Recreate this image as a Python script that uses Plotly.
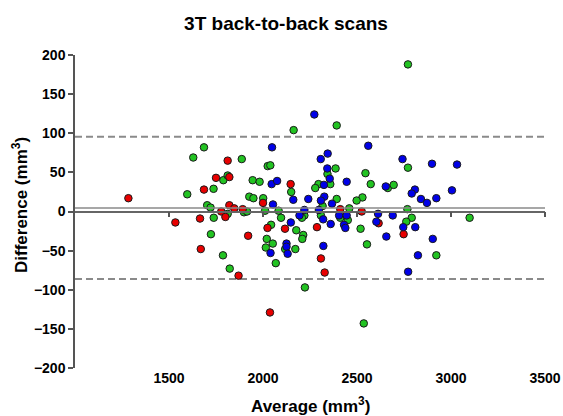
import plotly.graph_objects as go

# ---- data ----
green_x = [2771, 2392, 2163, 1686, 1629, 1887, 2025, 2039, 2386, 2771, 2343, 2358, 2295, 2278, 2545,
           2573, 2664, 2695, 2529, 2498, 2392, 2317, 2459, 2411, 2451, 2768, 2791, 2762, 2220, 2308,
           2519, 3099, 2214, 2209, 2553, 2922, 1789, 1812, 1945, 1982, 2150, 1597, 1737, 1927, 1949,
           2001, 1703, 1721, 1812, 1738, 1899, 1915, 2011, 2083, 2096, 2043, 2177, 1723, 2020, 2052,
           2118, 2172, 2015, 1787, 2068, 1823, 2223, 2536, 2207]
green_y = [188, 110, 104, 82, 69, 67, 58, 59, 55, 56, 48, 35, 35, 30, 49,
           35, 30, 34, 18, 14, 16, 7, 4, -8, -11, 3, -8, -13, -5, -5,
           -22, -8, -30, -35, -42, -56, 40, 46, 40, 38, 25, 22, 29, 19, 17,
           17, 8, 5, -3, -8, -1, 0, 1, 1, -8, -17, -24, -29, -35, -41,
           -48, -48, -46, -56, -66, -73, -97, -143, -8]

red_x = [1284, 1534, 1665, 1669, 1686, 1750, 1812, 1821, 1821, 1847, 1778, 1800, 1892, 1921,
         1870, 2000, 2024, 2037, 2117, 2147, 2287, 2308, 2328, 2411, 2525, 2615, 2748]
red_y = [17, -14, -9, -48, 28, 43, 65, 44, 8, 4, 0, -7, 3, -31,
         -82, 11, -21, -129, -22, 35, -20, -60, -78, 3, 0, -15, -29]

blue_x = [2048, 2273, 2307, 2344, 2342, 2355, 2324, 2445, 2560, 2742, 2899, 3032, 3005, 2808, 2791,
          2840, 2872, 2922, 2653, 2046, 2075, 2053, 2161, 2241, 2326, 2308, 2367, 2220, 2297, 2194,
          2405, 2445, 2612, 2690, 2603, 2320, 2360, 2431, 2438, 2148, 2746, 2810, 2656, 2903, 2125,
          2125, 2321, 2040, 2131, 2824, 2772]
blue_y = [82, 124, 67, 74, 55, 42, 34, 38, 84, 67, 61, 60, 27, 28, 23,
          16, 11, 17, 32, 35, 39, 9, 15, 16, 19, 14, 10, 2, 2, -5,
          -5, -5, -3, -5, -13, -10, -16, -17, -21, -14, -20, -20, -32, -35, -41,
          -45, -44, -53, -54, -56, -77]

bias = 4.6
upper_loa = 95.6
lower_loa = -86.2
x_range = [1000, 3500]
y_range = [-200, 200]
x_ticks = [1500, 2000, 2500, 3000, 3500]
y_ticks = [-200, -150, -100, -50, 0, 50, 100, 150, 200]

FONT = "Arial, Liberation Sans, sans-serif"

fig = go.Figure()

# limits of agreement (dashed)
for v in (upper_loa, lower_loa):
    fig.add_trace(go.Scatter(x=x_range, y=[v, v], mode="lines", showlegend=False,
                             hoverinfo="skip",
                             line=dict(color="#8a8a8a", width=2, dash="7px,4px")))
# mean bias line (on overlay axis x2 so that axis is drawn at y=0)
fig.add_trace(go.Scatter(x=x_range, y=[bias, bias], mode="lines", showlegend=False,
                         xaxis="x2", hoverinfo="skip",
                         line=dict(color="#8a8a8a", width=1.5)))

mk_line = dict(color="#1a1a1a", width=1)
fig.add_trace(go.Scatter(x=green_x, y=green_y, mode="markers", showlegend=False,
                         marker=dict(size=7.5, color="#22c322", line=mk_line)))
fig.add_trace(go.Scatter(x=red_x, y=red_y, mode="markers", showlegend=False,
                         marker=dict(size=7.5, color="#e80000", line=mk_line)))
fig.add_trace(go.Scatter(x=blue_x, y=blue_y, mode="markers", showlegend=False,
                         marker=dict(size=7.5, color="#0000e8", line=mk_line)))

tickfont = dict(family=FONT, size=14, color="black", weight="bold")

fig.update_layout(
    width=563, height=416,
    margin=dict(l=75, r=18, t=55, b=48, autoexpand=False),
    paper_bgcolor="white", plot_bgcolor="white",
    title=dict(text="3T back-to-back scans", x=0.508, xref="container", xanchor="center",
               y=1 - 23 / 416, yref="container", yanchor="middle",
               font=dict(family=FONT, size=19, color="black", weight="bold")),
    xaxis=dict(range=x_range, tickvals=x_ticks, showline=False, showgrid=False,
               zeroline=False, ticks="", tickfont=tickfont),
    xaxis2=dict(range=x_range, overlaying="x", anchor="free", position=0.5, side="bottom",
                tickvals=x_ticks, ticks="outside", ticklen=5, tickwidth=1.5, tickcolor="#555",
                showticklabels=False, showline=True, linecolor="#666", linewidth=1.5,
                showgrid=False, zeroline=False),
    yaxis=dict(range=y_range, tickvals=y_ticks, showline=True, linecolor="#555", linewidth=1.5,
               ticks="outside", ticklen=5, tickwidth=1.5, tickcolor="#555",
               showgrid=False, zeroline=False, tickfont=tickfont),
    annotations=[
        dict(text="Average (mm<sup>3</sup>)", xref="paper", yref="paper", x=0.5, y=-37 / 313,
             xanchor="center", yanchor="middle", showarrow=False,
             font=dict(family=FONT, size=17, color="black", weight="bold")),
        dict(text="Difference (mm<sup>3</sup>)", xref="paper", yref="paper", x=-55 / 470,
             y=(368 - 205) / 313, xanchor="center", yanchor="middle", textangle=-90,
             showarrow=False,
             font=dict(family=FONT, size=17, color="black", weight="bold")),
    ],
)

fig.write_html("out.html")
